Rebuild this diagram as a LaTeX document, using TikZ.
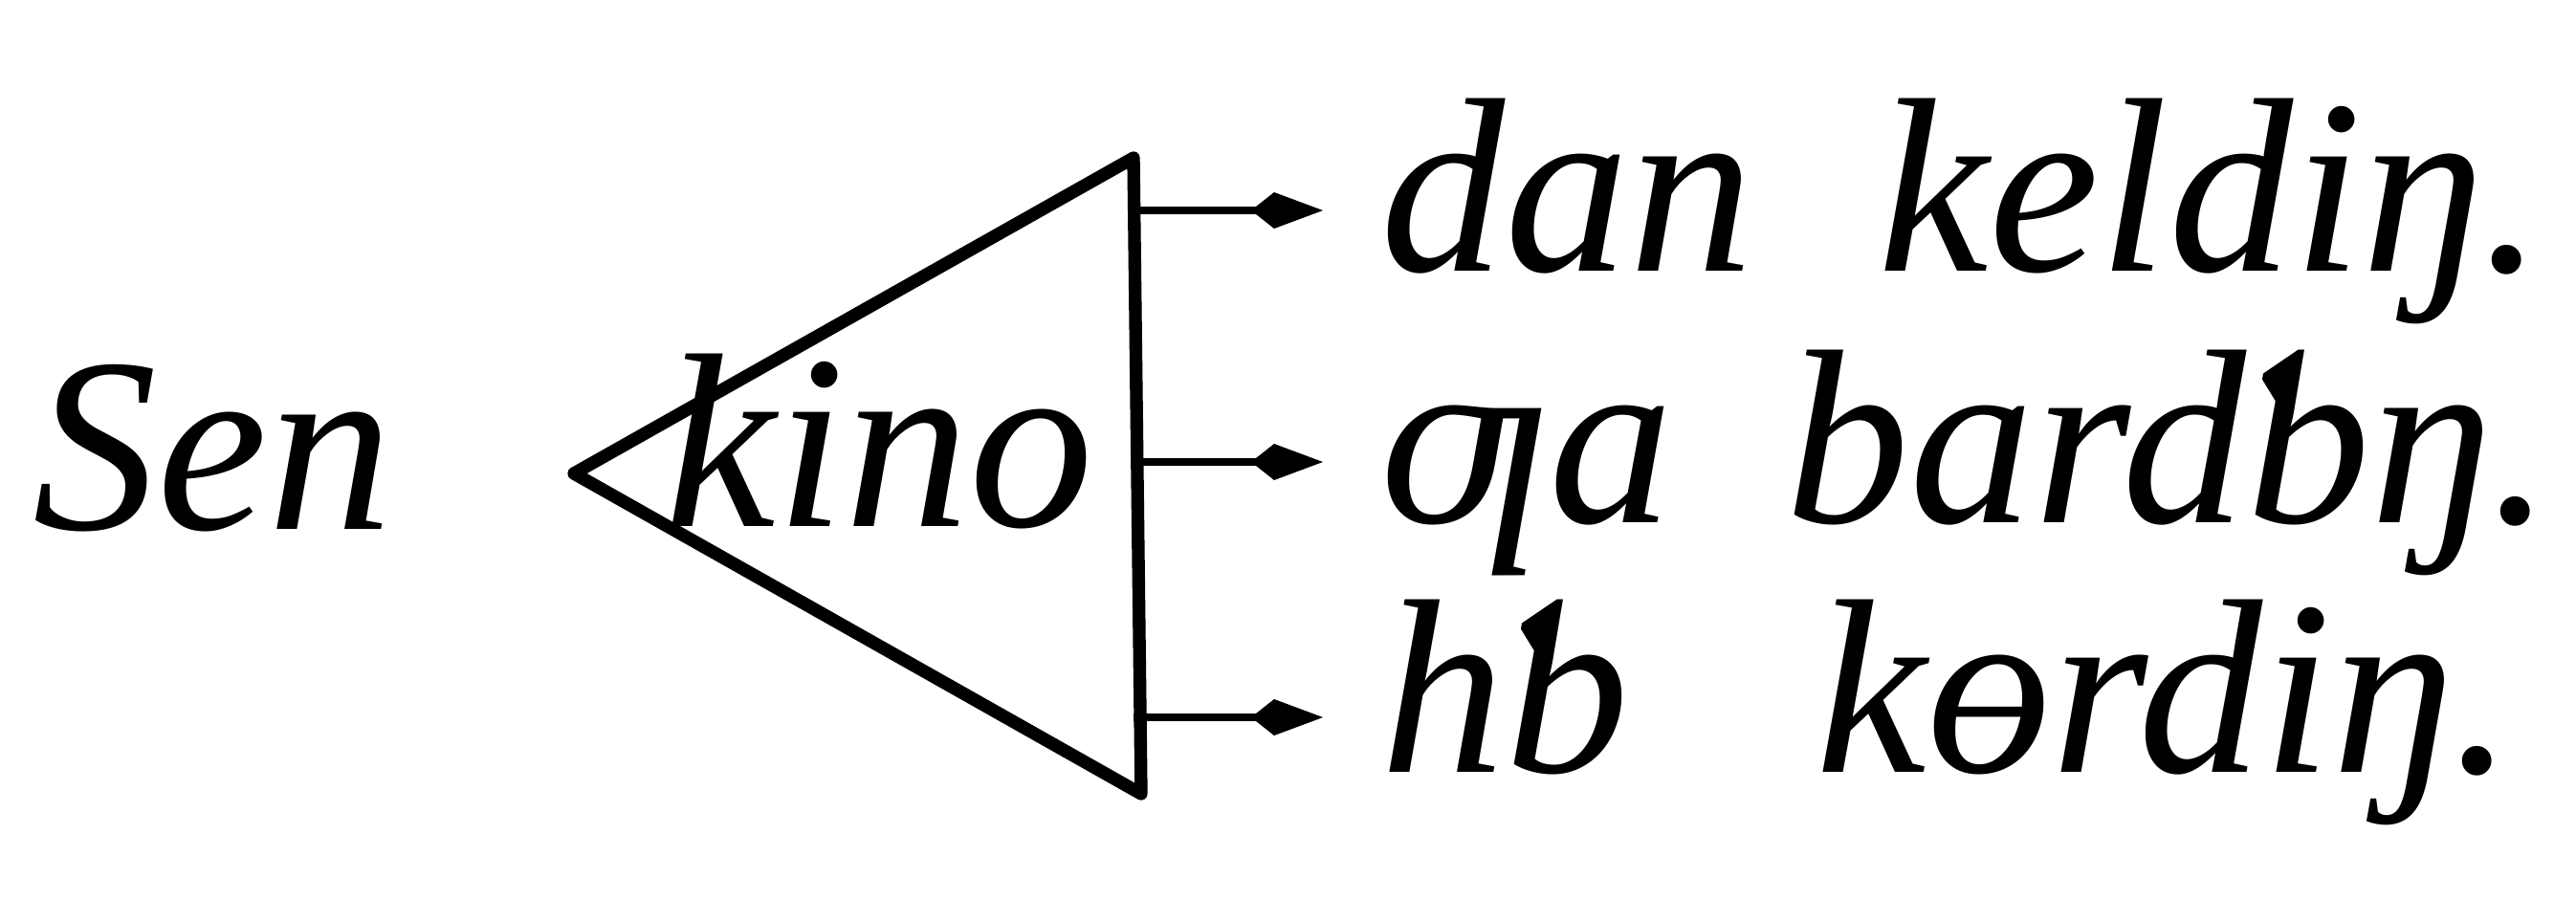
\documentclass[tikz,border=0pt]{standalone}
\usepackage{fontspec}
\newfontfamily\handfont{Liberation Serif}
\usetikzlibrary{arrows.meta}

\begin{document}
\begin{tikzpicture}[
    word/.style={font=\handfont\itshape\fontsize{74}{80}\selectfont, anchor=base west, inner sep=0pt},
    side/.style={line width=3.8pt, line join=round, line cap=round},
    arrow/.style={-{Kite[length=7.5mm, width=3.8mm, inset=2.4mm]}, line width=2.4pt, shorten >=6mm}
]
\useasboundingbox (0,0) rectangle (26.93,-9.40);

% Left word and the triangle with the stem
\node[word] (sen) at (0.34,-5.53) {Sen};
\coordinate (apex) at (6.00,-4.95);
\coordinate (top) at (11.85,-1.65);
\coordinate (bottom) at (11.93,-8.30);
\draw[side] (apex) -- (top) -- (bottom) -- cycle;
\node[word] (kino) at (6.95,-5.50) {kino};

% Right column - endings
\node[word] (dan) at (14.43,-2.83) {dan\hspace{0.5em}keldiŋ.};
\node[word] (ga) at (14.43,-5.46) {ƣa\hspace{0.45em}bardƅŋ.};
\node[word] (hb) at (14.43,-8.07) {hƅ\hspace{0.75em}kɵrdiŋ.};

% Arrow ends, half an x-height above the base line
\coordinate (e1) at ([yshift=6.3mm]dan.base west);
\coordinate (e2) at ([yshift=6.3mm]ga.base west);
\coordinate (e3) at ([yshift=5.7mm]hb.base west);

% Arrows from the stem
\draw[arrow] (top |- e1) -- (e1);
\draw[arrow] (top |- e2) -- (e2);
\draw[arrow] (top |- e3) -- (e3);

\end{tikzpicture}
\end{document}
